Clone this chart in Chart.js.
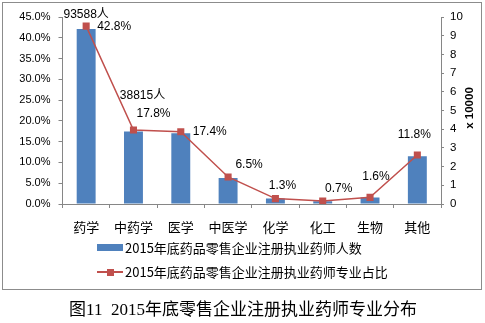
<!DOCTYPE html>
<html>
<head>
<meta charset="utf-8">
<script src="https://cdn.jsdelivr.net/npm/chart.js@4/dist/chart.umd.min.js"></script>
<style>
  html, body { margin: 0; padding: 0; background: #fff; }
  #wrap { width: 485px; height: 323px; }
</style>
</head>
<body>
<div id="wrap"><canvas id="specialtyChart" width="485" height="323"></canvas></div>
<script>
const categories = ['药学', '中药学', '医学', '中医学', '化学', '化工', '生物', '其他'];
const pharmacistCounts = [93588, 38815, 37800, 13950, 2900, 1500, 3500, 25600];
const sharePercent = [42.8, 17.8, 17.4, 6.5, 1.3, 0.7, 1.6, 11.8];
const countLabelIndexes = [0, 1];
const leftTicks = [0, 5, 10, 15, 20, 25, 30, 35, 40, 45];

const barName = '2015年底药品零售企业注册执业药师人数';
const lineName = '2015年底药品零售企业注册执业药师专业占比';
const chartTitle = '图11  2015年底零售企业注册执业药师专业分布';

const BLUE = '#4F81BD';
const RED = '#C0504D';
const AXIS = '#868686';
const LATIN = '"Liberation Sans", Arial, sans-serif';
const CJK = '"Noto Sans CJK SC", sans-serif';

// label offsets from each point / bar top (px)
const shareOffsets = [[28, 1], [20, -16], [29, 0], [21, -12], [7, -13], [16, -12], [6, -21], [-3, -20]];
const countOffsets = [[0, -14], [9, -36]];

const extras = {
  id: 'extras',
  beforeDraw(chart) {
    const c = chart.ctx;
    c.save();
    c.strokeStyle = '#8c8c8c';
    c.lineWidth = 1;
    c.strokeRect(2.5, 2.5, 479, 287);
    c.restore();
  },
  afterDraw(chart) {
    const c = chart.ctx;
    c.save();
    c.fillStyle = '#000';
    c.textAlign = 'center';
    c.textBaseline = 'middle';

    // value labels
    c.font = '12px ' + LATIN;
    const lineMeta = chart.getDatasetMeta(1);
    lineMeta.data.forEach((p, i) => {
      const o = shareOffsets[i];
      c.fillText(sharePercent[i].toFixed(1) + '%', p.x + o[0], p.y + o[1]);
    });
    c.font = '12px "Liberation Sans", ' + CJK;
    const barMeta = chart.getDatasetMeta(0);
    countLabelIndexes.forEach((idx, k) => {
      const b = barMeta.data[idx];
      const o = countOffsets[k];
      c.fillText(pharmacistCounts[idx] + '人', b.x + o[0], b.y + o[1]);
    });

    // right axis title, reading upward
    c.save();
    c.translate(470, 108);
    c.rotate(-Math.PI / 2);
    c.font = 'bold 11.5px ' + LATIN;
    c.fillText('x 10000', 0, 0);
    c.restore();

    // legend
    c.textAlign = 'left';
    c.font = '13px ' + CJK;
    c.fillStyle = BLUE;
    c.fillRect(97, 244, 26, 7);
    c.fillStyle = '#000';
    c.fillText(barName, 125, 248);
    c.strokeStyle = RED;
    c.lineWidth = 2;
    c.beginPath();
    c.moveTo(97, 272);
    c.lineTo(123, 272);
    c.stroke();
    c.fillStyle = RED;
    c.fillRect(107, 269, 7, 7);
    c.fillStyle = '#000';
    c.fillText(lineName, 125, 272);

    // caption
    c.textAlign = 'center';
    c.font = '17px "Liberation Serif", ' + CJK;
    c.fillText(chartTitle, 243, 311);
    c.restore();
  }
};

new Chart(document.getElementById('specialtyChart'), {
  data: {
    labels: categories,
    datasets: [{
      type: 'bar',
      label: barName,
      data: pharmacistCounts,
      yAxisID: 'yRight',
      backgroundColor: BLUE,
      borderWidth: 0,
      barPercentage: 0.4,
      categoryPercentage: 1,
      order: 2
    }, {
      type: 'line',
      label: lineName,
      data: sharePercent,
      yAxisID: 'yLeft',
      borderColor: RED,
      borderWidth: 1.5,
      backgroundColor: RED,
      pointStyle: 'rect',
      pointRadius: 5,
      pointBorderWidth: 0,
      tension: 0,
      order: 1
    }]
  },
  options: {
    responsive: false,
    animation: false,
    layout: { padding: { top: 17, left: 0, right: 0, bottom: 0 } },
    plugins: { legend: { display: false }, tooltip: { enabled: false } },
    scales: {
      x: {
        grid: { offset: true, drawOnChartArea: false, tickLength: 4, color: AXIS },
        border: { color: AXIS },
        ticks: { padding: 11, color: '#000', font: { family: CJK, size: 13 } },
        afterFit(s) { s.height = 119; }
      },
      yLeft: {
        position: 'left',
        min: 0, max: 45,
        afterBuildTicks(s) { s.ticks = leftTicks.map(v => ({ value: v })); },
        grid: { drawOnChartArea: false, tickLength: 4, color: AXIS },
        border: { color: AXIS },
        ticks: { padding: 8, color: '#000', font: { family: LATIN, size: 11 },
          callback: v => v.toFixed(1) + '%' },
        afterFit(s) { s.width = 62.5; }
      },
      yRight: {
        position: 'right',
        min: 0, max: 100000,
        grid: { drawOnChartArea: false, tickLength: 3, color: AXIS },
        border: { color: AXIS },
        ticks: { stepSize: 10000, padding: 6, color: '#000', font: { family: LATIN, size: 11.5 },
          callback: v => v / 10000 },
        afterFit(s) { s.width = 44; }
      }
    }
  },
  plugins: [extras]
});
</script>
</body>
</html>
